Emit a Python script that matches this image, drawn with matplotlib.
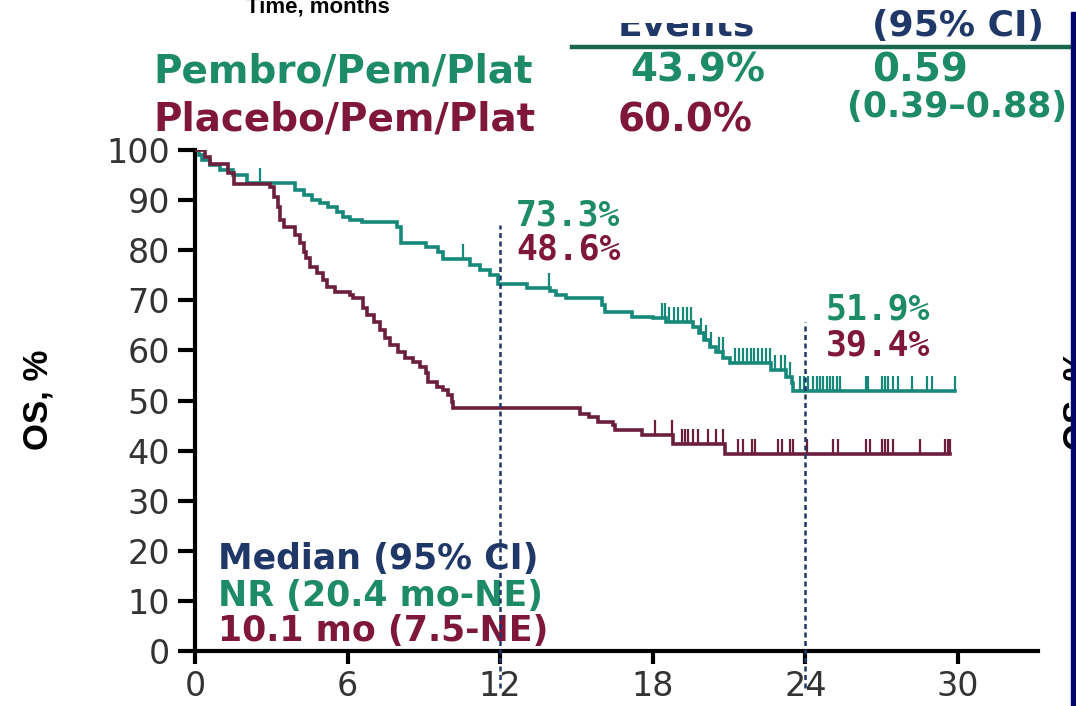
import numpy as np
import matplotlib
matplotlib.use("Agg")
import matplotlib.pyplot as plt
from matplotlib.transforms import Bbox

# ---- data -------------------------------------------------------------
pembro_t = [0, 0.15, 0.26, 0.59, 1.0, 1.5, 2.03, 3.93, 4.3, 4.6, 4.92, 5.24,
            5.57, 5.83, 6.1, 6.55, 7.93, 8.12, 9.1, 9.57, 9.77, 10.8, 11.2,
            11.6, 11.93, 13.04, 13.96, 14.2, 14.6, 15.99, 16.12, 17.17, 18.02,
            18.54, 19.6, 19.8, 20.0, 20.25, 20.5, 20.77, 21.04, 22.67, 23.26,
            23.46, 23.53]
pembro_s = [100, 99.0, 98.0, 97.0, 96.0, 95.0, 93.4, 92.0, 91.0, 90.0, 89.4,
            88.7, 87.7, 86.7, 86.0, 85.7, 84.7, 81.4, 80.7, 79.7, 78.2, 77.0,
            76.0, 75.0, 73.3, 72.4, 71.8, 71.1, 70.4, 69.1, 67.7, 66.7, 66.4,
            65.7, 64.7, 63.4, 62.1, 60.7, 59.7, 58.4, 57.4, 56.1, 54.7, 53.4,
            51.9]
pembro_end = 29.9
pembro_cens = [2.56, 10.55, 13.92, 18.35, 18.5, 18.65, 18.85, 19.0, 19.2,
               19.35, 19.5, 19.9, 20.1, 20.3, 20.6, 20.75, 21.25, 21.4, 21.55,
               21.7, 21.85, 22.0, 22.15, 22.3, 22.45, 22.6, 22.8, 23.05, 23.2,
               23.4, 23.8, 23.95, 24.1, 24.32, 24.45, 24.58, 24.71, 24.84,
               24.97, 25.1, 25.23, 25.36, 26.4, 26.47, 27.0, 27.13, 27.26,
               27.45, 27.65, 28.2, 28.8, 29.0, 29.9]

placebo_t = [0, 0.4, 0.6, 1.3, 1.55, 2.95, 3.1, 3.25, 3.34, 3.5, 3.95, 4.13,
             4.3, 4.38, 4.52, 4.78, 5.05, 5.18, 5.5, 6.1, 6.23, 6.62, 6.75,
             7.02, 7.27, 7.47, 7.67, 8.0, 8.26, 8.58, 8.85, 9.1, 9.17, 9.5,
             9.77, 9.96, 10.09, 10.16, 15.14, 15.5, 15.85, 16.44, 16.52, 17.56,
             18.81, 20.84]
placebo_s = [100, 98.7, 97.3, 95.4, 93.3, 92.7, 90.7, 88.7, 86.0, 84.7, 83.0,
             81.4, 79.7, 78.4, 76.7, 75.4, 74.1, 72.7, 71.7, 71.1, 70.4, 68.4,
             67.1, 65.7, 64.1, 62.4, 61.1, 59.7, 58.4, 57.7, 56.7, 55.4, 53.7,
             52.7, 52.1, 51.1, 49.8, 48.6, 47.4, 46.8, 45.8, 45.1, 44.1, 43.1,
             41.4, 39.4]
placebo_end = 29.7
placebo_cens = [18.09, 18.75, 19.14, 19.27, 19.4, 19.6, 19.79, 20.18, 20.5,
                20.77, 21.37, 21.56, 21.89, 22.02, 22.94, 23.07, 23.4, 23.53,
                24.05, 25.1, 25.3, 26.4, 26.54, 27.0, 27.13, 27.26, 27.45,
                28.5, 29.5, 29.62, 29.69]

landmarks = [12, 24]
landmark_top = [85, 65.7]
pembro_landmark = ["73.3%", "51.9%"]
placebo_landmark = ["48.6%", "39.4%"]

x_ticks = [0, 6, 12, 18, 24, 30]
y_ticks = list(range(0, 101, 10))

# ---- colours ----------------------------------------------------------
GREEN = "#16897a"
GREEN_TXT = "#1d8a68"
MAROON = "#6c1f3d"
MAROON_TXT = "#7e1739"
NAVY = "#1f3868"
RULE = "#17664f"

W, H = 1076, 706
fig = plt.figure(figsize=(W / 100, H / 100), dpi=100)
fig.patch.set_facecolor("white")

def fx(px):
    return px / W

def fy(py):
    return 1 - py / H

ax = fig.add_axes([fx(195), fy(651), fx(1038) - fx(195), fy(150) - fy(651)])
ax.set_xlim(0, 33.15)
ax.set_ylim(0, 100)

# ---- survival curves --------------------------------------------------
def draw_km(t, s, end, cens, color):
    tt = list(t) + [end]
    ss = list(s) + [s[-1]]
    ax.step(tt, ss, where="post", color=color, lw=2.6, solid_joinstyle="miter",
            zorder=3)
    ct = np.asarray(cens)
    idx = np.searchsorted(np.asarray(t), ct, side="right") - 1
    cs = np.asarray(s)[idx]
    ax.vlines(ct, cs, cs + 3.0, color=color, lw=1.6, zorder=3)

draw_km(pembro_t, pembro_s, pembro_end, pembro_cens, GREEN)
draw_km(placebo_t, placebo_s, placebo_end, placebo_cens, MAROON)

# landmark guide lines
for xm, top in zip(landmarks, landmark_top):
    ax.plot([xm, xm], [-7.4, top], color=NAVY, lw=1.8,
            linestyle=(0, (2.0, 1.4)), clip_on=False, zorder=5)

mono = dict(family="DejaVu Sans Mono", weight="bold", fontsize=25)
ax.text(12.62, 87.0, pembro_landmark[0], color=GREEN_TXT, va="center", **mono)
ax.text(12.62, 80.2, placebo_landmark[0], color=MAROON_TXT, va="center", **mono)
ax.text(24.8, 68.1, pembro_landmark[1], color=GREEN_TXT, va="center", **mono)
ax.text(24.8, 61.0, placebo_landmark[1], color=MAROON_TXT, va="center", **mono)

med = dict(family="DejaVu Sans", weight="bold", fontsize=25, va="center")
ax.text(0.9, 18.4, "Median (95% CI)", color=NAVY, **med)
ax.text(0.9, 11.0, "NR (20.4 mo-NE)", color=GREEN_TXT, **med)
ax.text(0.9, 3.9, "10.1 mo (7.5-NE)", color=MAROON_TXT, **med)

# ---- axes styling -----------------------------------------------------
for side in ("top", "right"):
    ax.spines[side].set_visible(False)
for side in ("left", "bottom"):
    ax.spines[side].set_linewidth(3)
    ax.spines[side].set_color("black")
ax.spines["left"].set_bounds(0, 100)

ax.set_xticks(x_ticks)
ax.set_yticks(y_ticks)
ax.tick_params(axis="x", length=9, width=3, pad=5, labelsize=24,
               labelcolor="#333333")
ax.tick_params(axis="y", length=12, width=3, pad=6, labelsize=24,
               labelcolor="#333333")
ax.set_facecolor("none")

fig.text(fx(38), fy(400), "OS, %",
         family=["Liberation Sans Narrow", "Liberation Sans"], weight="bold",
         fontsize=25, rotation=90, ha="center", va="center")

# ---- header table -----------------------------------------------------
hdr = dict(family="DejaVu Sans", weight="bold", fontsize=26, color=NAVY,
           ha="center", va="baseline")
ev = fig.text(fx(686), fy(36), "Events", **hdr)
clip = Bbox.from_extents(0, 0, W, H - 23)
ev.set_clip_box(clip)
ev.set_clip_on(True)
fig.text(fx(958), fy(36), "(95% CI)", **hdr)

fig.text(fx(318), fy(13), "Time, months",
         family=["Liberation Sans Narrow", "Liberation Sans"], weight="bold",
         fontsize=16, ha="center", va="baseline")

fig.add_artist(plt.Line2D([fx(572), fx(1072)], [fy(47), fy(47)],
                          color=RULE, lw=3.2, transform=fig.transFigure))

row = dict(family="DejaVu Sans", weight="bold", fontsize=28, va="center")
fig.text(fx(153), fy(71), "Pembro/Pem/Plat", color=GREEN_TXT, ha="left", **row)
fig.text(fx(153), fy(120), "Placebo/Pem/Plat", color=MAROON_TXT, ha="left", **row)
fig.text(fx(698), fy(71), "43.9%", color=GREEN_TXT, ha="center", **row)
fig.text(fx(685), fy(120), "60.0%", color=MAROON_TXT, ha="center", **row)
fig.text(fx(920), fy(71), "0.59", color=GREEN_TXT, ha="center", **row)
fig.text(fx(1067), fy(107), "(0.39\u20130.88)", color=GREEN_TXT,
         family="DejaVu Sans", weight="bold", fontsize=25, va="center",
         ha="right")

# neighbouring panel edge on the right
fig.text(fx(1078), fy(400), "OS, %",
         family=["Liberation Sans Narrow", "Liberation Sans"], weight="bold",
         fontsize=25, rotation=90, ha="center", va="center")
fig.add_artist(plt.Rectangle((fx(1071), 0), fx(6), fy(12), color="#05056e",
                             transform=fig.transFigure, zorder=10))

fig.savefig("out.png", dpi=100, facecolor="white")
